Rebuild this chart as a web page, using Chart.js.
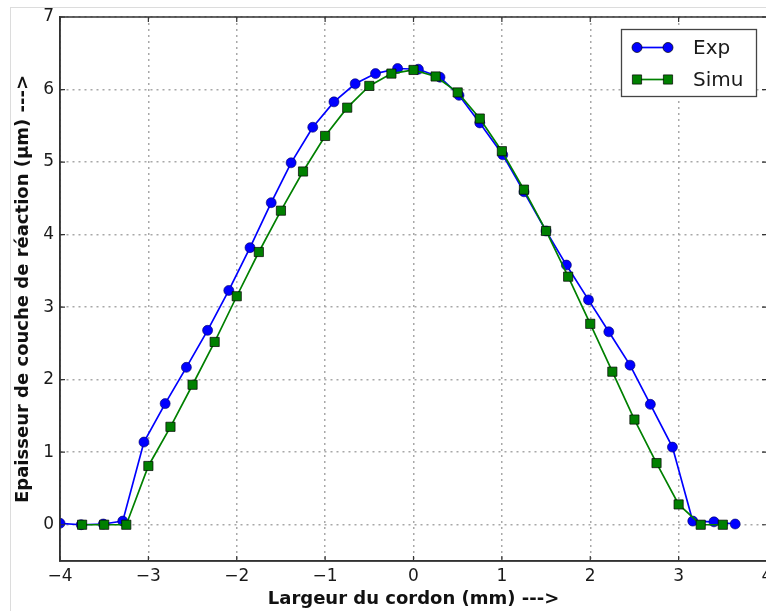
<!DOCTYPE html>
<html>
<head>
<meta charset="utf-8">
<script src="https://cdn.jsdelivr.net/npm/chart.js@4.4.1/dist/chart.umd.min.js"></script>
<style>
  html, body { margin: 0; padding: 0; background: #fff; overflow: hidden; width: 766px; height: 611px; }
  #frame { position: absolute; left: 10px; top: 7px; width: 900px; height: 700px; border-left: 1px solid #dcdcdc; border-top: 1px solid #dcdcdc; }
  #wrap { position: absolute; left: 0; top: 0; width: 780px; height: 611px; }
</style>
</head>
<body>
<div id="frame"></div>
<div id="wrap"><canvas id="profileChart" width="780" height="611"></canvas></div>
<script>
// Measured profile (Exp) and simulated profile (Simu)
const EXP_X = [-4.00, -3.76, -3.51, -3.29, -3.05, -2.81, -2.57, -2.33, -2.09, -1.85, -1.61,
  -1.385, -1.14, -0.90, -0.66, -0.43, -0.18, 0.055, 0.30, 0.515, 0.75, 1.01, 1.25, 1.50,
  1.73, 1.98, 2.21, 2.45, 2.68, 2.93, 3.16, 3.40, 3.64];
const EXP_Y = [0.02, 0.00, 0.01, 0.05, 1.14, 1.67, 2.17, 2.68, 3.23, 3.82, 4.44,
  4.99, 5.48, 5.83, 6.08, 6.22, 6.29, 6.28, 6.17, 5.92, 5.54, 5.10, 4.59, 4.05,
  3.58, 3.10, 2.66, 2.20, 1.66, 1.07, 0.05, 0.04, 0.01];

const SIMU_X = [-3.75, -3.50, -3.25, -3.00, -2.75, -2.50, -2.25, -2.00, -1.75, -1.50,
  -1.25, -1.00, -0.75, -0.50, -0.25, 0.00, 0.25, 0.50, 0.75, 1.00,
  1.25, 1.50, 1.75, 2.00, 2.25, 2.50, 2.75, 3.00, 3.25, 3.50];
const SIMU_Y = [0.00, 0.00, 0.00, 0.81, 1.35, 1.93, 2.52, 3.15, 3.76, 4.33,
  4.87, 5.36, 5.75, 6.05, 6.22, 6.27, 6.18, 5.96, 5.60, 5.15,
  4.62, 4.05, 3.42, 2.77, 2.11, 1.45, 0.85, 0.28, 0.00, 0.00];

const X_TICKS = [-4, -3, -2, -1, 0, 1, 2, 3, 4];
const Y_TICKS = [0, 1, 2, 3, 4, 5, 6, 7];
const SERIES_NAMES = ['Exp', 'Simu'];

const FONT = "'DejaVu Sans', sans-serif";
const TICK_FONT = { family: FONT, size: 17 };
const TITLE_FONT = { family: FONT, size: 18, weight: 'bold' };
const BLUE = '#0000ff';
const GREEN = '#008000';

const fmt = v => (v < 0 ? '\u2212' + Math.abs(v) : String(v));
const toPoints = (xs, ys) => xs.map((x, i) => ({ x, y: ys[i] }));

// matplotlib-style frame: full box + inward ticks on all sides
const frameTicks = {
  id: 'frameTicks',
  afterDatasetsDraw(chart) {
    const { ctx, chartArea: a, scales } = chart;
    ctx.save();
    ctx.strokeStyle = '#333';
    ctx.lineWidth = 1.5;
    ctx.strokeRect(a.left, a.top, a.right - a.left, a.bottom - a.top);
    ctx.lineWidth = 1.2;
    ctx.beginPath();
    X_TICKS.forEach(v => {
      const px = scales.x.getPixelForValue(v);
      ctx.moveTo(px, a.bottom); ctx.lineTo(px, a.bottom - 5);
      ctx.moveTo(px, a.top); ctx.lineTo(px, a.top + 5);
    });
    Y_TICKS.forEach(v => {
      const py = scales.y.getPixelForValue(v);
      ctx.moveTo(a.left, py); ctx.lineTo(a.left + 5, py);
      ctx.moveTo(a.right, py); ctx.lineTo(a.right - 5, py);
    });
    ctx.stroke();
    ctx.restore();
  }
};

// legend box in the upper right corner of the axes
const boxLegend = {
  id: 'boxLegend',
  afterDraw(chart) {
    const { ctx } = chart;
    const bx = 621.5, by = 29.5, bw = 135, bh = 67;
    ctx.save();
    ctx.fillStyle = '#fff';
    ctx.strokeStyle = '#444';
    ctx.lineWidth = 1.3;
    ctx.fillRect(bx, by, bw, bh);
    ctx.strokeRect(bx, by, bw, bh);
    const rows = [
      { name: SERIES_NAMES[0], color: BLUE, y: 47.5, shape: 'circle' },
      { name: SERIES_NAMES[1], color: GREEN, y: 79.5, shape: 'rect' }
    ];
    rows.forEach(r => {
      ctx.strokeStyle = r.color;
      ctx.lineWidth = 1.7;
      ctx.beginPath();
      ctx.moveTo(637, r.y); ctx.lineTo(668, r.y);
      ctx.stroke();
      [637, 668].forEach(mx => {
        ctx.fillStyle = r.color;
        ctx.strokeStyle = '#000';
        ctx.lineWidth = 0.7;
        ctx.beginPath();
        if (r.shape === 'circle') ctx.arc(mx, r.y, 5, 0, Math.PI * 2);
        else ctx.rect(mx - 4.6, r.y - 4.6, 9.2, 9.2);
        ctx.fill();
        ctx.stroke();
      });
      ctx.fillStyle = '#1a1a1a';
      ctx.font = '20px ' + FONT;
      ctx.textBaseline = 'middle';
      ctx.fillText(r.name, 693, r.y + 1);
    });
    ctx.restore();
  }
};

new Chart(document.getElementById('profileChart'), {
  type: 'scatter',
  data: {
    datasets: [
      {
        label: SERIES_NAMES[1],
        data: toPoints(SIMU_X, SIMU_Y),
        showLine: true,
        borderColor: GREEN, borderWidth: 1.7,
        pointStyle: 'rect', pointRadius: 6.5,
        pointBackgroundColor: GREEN, pointBorderColor: '#000', pointBorderWidth: 0.7
      },
      {
        label: SERIES_NAMES[0],
        data: toPoints(EXP_X, EXP_Y),
        showLine: true,
        borderColor: BLUE, borderWidth: 1.7,
        pointStyle: 'circle', pointRadius: 5,
        pointBackgroundColor: BLUE, pointBorderColor: '#000060', pointBorderWidth: 0.6
      }
    ]
  },
  options: {
    responsive: false,
    animation: false,
    devicePixelRatio: 1,
    layout: { padding: { left: 10, top: 17, right: 13, bottom: 0 } },
    plugins: { legend: { display: false }, tooltip: { enabled: false } },
    scales: {
      x: {
        type: 'linear', min: -4, max: 4,
        afterFit: s => { s.height = 50; },
        afterBuildTicks: s => { s.ticks = X_TICKS.map(v => ({ value: v })); },
        grid: { color: '#a8a8a8', lineWidth: 1.5, drawTicks: false },
        border: { color: '#333', width: 1.5, dash: [2, 4] },
        ticks: { font: TICK_FONT, color: '#1a1a1a', padding: 5, maxRotation: 0, callback: fmt },
        title: { display: true, text: 'Largeur du cordon (mm) --->', font: TITLE_FONT, color: '#111', padding: { top: 0, bottom: 1 } }
      },
      y: {
        type: 'linear', min: -0.5, max: 7,
        afterFit: s => { s.width = 50; },
        afterBuildTicks: s => { s.ticks = Y_TICKS.map(v => ({ value: v })); },
        grid: { color: '#a8a8a8', lineWidth: 1.5, drawTicks: false },
        border: { color: '#333', width: 1.5, dash: [2, 4] },
        ticks: { font: TICK_FONT, color: '#1a1a1a', padding: 6, callback: fmt },
        title: { display: true, text: 'Epaisseur de couche de réaction (µm) --->', font: TITLE_FONT, color: '#111', padding: { top: 3, bottom: 0 } }
      }
    }
  },
  plugins: [frameTicks, boxLegend]
});
</script>
</body>
</html>
